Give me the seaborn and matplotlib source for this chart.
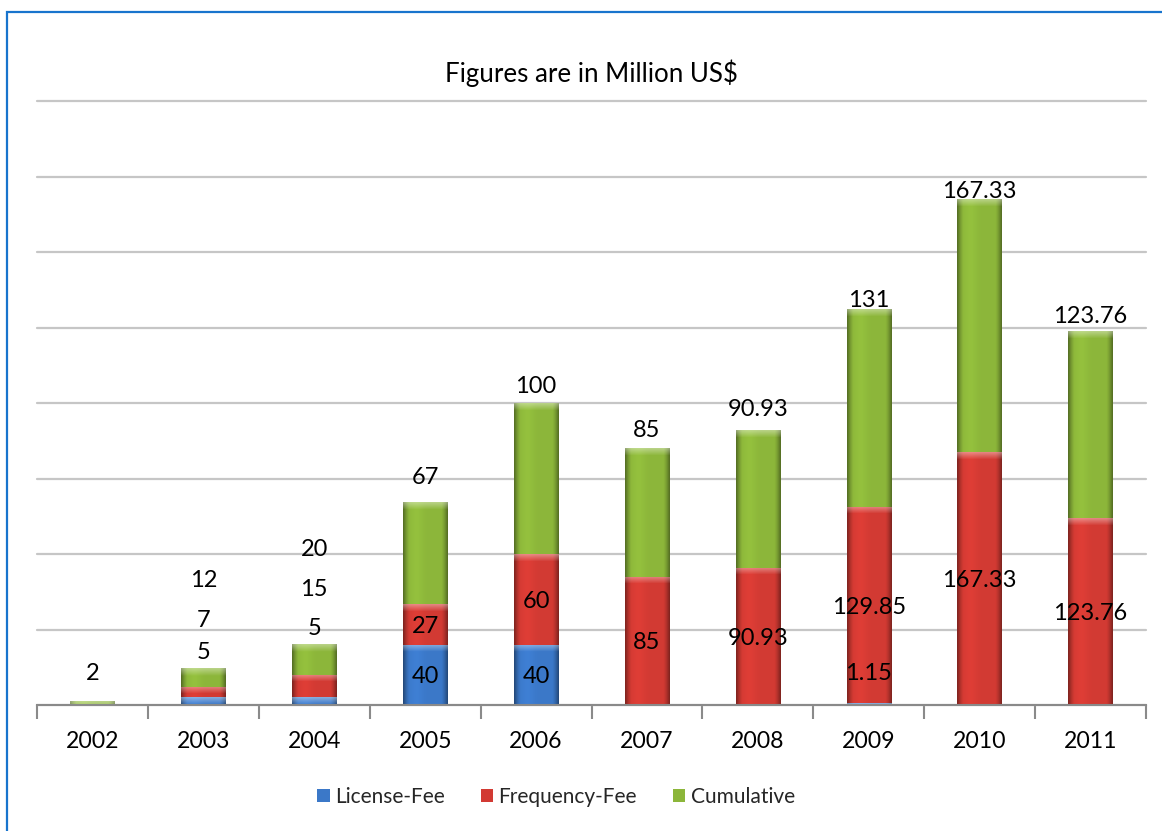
import numpy as np
import pandas as pd
import matplotlib
matplotlib.use("Agg")
import matplotlib.pyplot as plt
import matplotlib.colors as mcolors
from matplotlib.patches import Patch, Rectangle
import seaborn as sns

# ---------------- data ----------------
years = ["2002", "2003", "2004", "2005", "2006", "2007", "2008", "2009", "2010", "2011"]
license_fee = [0, 5, 5, 40, 40, 0, 0, 1.15, 0, 0]
frequency_fee = [0, 7, 15, 27, 60, 85, 90.93, 129.85, 167.33, 123.76]
cumulative = [2, 12, 20, 67, 100, 85, 90.93, 131, 167.33, 123.76]
series_names = ["License-Fee", "Frequency-Fee", "Cumulative"]
title_text = "Figures are in Million US$"

# label placement (text annotations only)
cum_label_offset = [None, None, None, 18, 12.5, 13, 15, 7.5, 6.5, 11]   # data units above bar top
small_labels = {  # (year index, text, y in data units)
    0: [("2", 22)],
    1: [("5", 36.4), ("7", 57.6), ("12", 84)],
    2: [("5", 51.7), ("15", 78), ("20", 104.6)],
}
lic_label_override = {7: 22}

# ---------------- style ----------------
BLUE = "#3B78C8"
RED = "#D23A33"
GREEN = "#8CB63A"
FONT = ["Lato", "DejaVu Sans"]

sns.set_theme(style="white")
plt.rcParams["font.family"] = FONT

W, H = 1162, 831
fig = plt.figure(figsize=(W / 100, H / 100), dpi=100)
ax_l, ax_r, ax_b, ax_t = 37, 1146, 705, 101
ax = fig.add_axes([ax_l / W, 1 - ax_b / H, (ax_r - ax_l) / W, (ax_b - ax_t) / H])

lic = np.array(license_fee, float)
frq = np.array(frequency_fee, float)
cum = np.array(cumulative, float)
tot = lic + frq + cum

df = pd.DataFrame({"year": years, "total": tot, "lf": lic + frq, "l": lic})

# back-to-front stacked bars
sns.barplot(data=df, x="year", y="total", color=GREEN, saturation=1, width=0.4, ax=ax, zorder=2, linewidth=0)
sns.barplot(data=df, x="year", y="lf", color=RED, saturation=1, width=0.4, ax=ax, zorder=3, linewidth=0)
sns.barplot(data=df, x="year", y="l", color=BLUE, saturation=1, width=0.4, ax=ax, zorder=4, linewidth=0)

ax.set_ylim(0, 400)
ax.set_xlim(-0.5, len(years) - 0.5)

# gradient shading on each segment
px_per_unit = (ax_b - ax_t) / 400.0
n = 80
t = np.linspace(0, 1, n)
d = np.abs(t - 0.5)
prof = 1.0 - 0.40 * np.clip((d - 0.36) / 0.14, 0, 1) ** 1.3 + 0.06 * np.exp(-((t - 0.3) / 0.15) ** 2)

def shade(x0, w, y0, h, color, z):
    if h <= 0:
        return
    rows = max(int(round(h * px_per_unit)), 2)
    base = np.array(mcolors.to_rgb(color))
    img = np.clip(base[None, None, :] * prof[None, :, None], 0, 1).repeat(rows, axis=0)
    k = np.arange(rows)
    hl = np.clip(1 - k / 7.0, 0, 1) * 0.38
    img = img * (1 - hl[:, None, None]) + hl[:, None, None]
    ax.imshow(img, extent=(x0, x0 + w, y0, y0 + h), origin="upper", aspect="auto",
              zorder=z, interpolation="bilinear")

bars = ax.patches[:len(years)]
for i, p in enumerate(bars):
    x0, w = p.get_x(), p.get_width()
    shade(x0, w, 0, lic[i], BLUE, 6)
    shade(x0, w, lic[i], frq[i], RED, 6)
    shade(x0, w, lic[i] + frq[i], cum[i], GREEN, 6)

ax.set_ylim(0, 400)
ax.set_xlim(-0.5, len(years) - 0.5)
ax.set_aspect("auto")

# axes styling
ax.set_yticks(np.arange(0, 401, 50))
ax.set_yticklabels([])
ax.yaxis.grid(True, color="#C6C6C6", linewidth=1.6)
for gl in ax.get_ygridlines():
    gl.set_clip_on(False)
ax.set_axisbelow(True)
for s in ["left", "right", "top"]:
    ax.spines[s].set_visible(False)
ax.spines["bottom"].set_color("#8A8A8A")
ax.spines["bottom"].set_linewidth(1.5)
ax.spines["bottom"].set_zorder(7)
ax.set_xlabel("")
ax.set_ylabel("")
ax.tick_params(axis="y", length=0)
ax.tick_params(axis="x", which="major", length=0, pad=19, labelsize=16.6, labelcolor="black")
ax.set_xticks(np.arange(-0.5, len(years)), minor=True)
ax.tick_params(axis="x", which="minor", length=10, width=1.5, color="#8A8A8A", bottom=True)

# data labels
FS = 17
half_cap = 0.36 * FS

def put(x, y, s):
    ax.annotate(s, (x, y), xytext=(0, -half_cap), textcoords="offset points",
                ha="center", va="baseline", fontsize=FS, color="black", zorder=10,
                annotation_clip=False)

def fmt(v):
    return ("%g" % v)

for i in range(len(years)):
    if i in small_labels:
        for s, y in small_labels[i]:
            put(i, y, s)
        continue
    if lic[i] > 0:
        y = lic_label_override.get(i, lic[i] / 2)
        put(i, y, fmt(lic[i]))
    if frq[i] > 0:
        put(i, lic[i] + frq[i] / 2, fmt(frq[i]))
    put(i, tot[i] + cum_label_offset[i], fmt(cum[i]))

# title
fig.text((ax_l + ax_r) / 2 / W, 1 - 82 / H, title_text, ha="center", va="baseline",
         fontsize=18.6, color="black")

# legend
handles = [Patch(facecolor=c, edgecolor="none") for c in (BLUE, RED, GREEN)]
fig.legend(handles, series_names, loc="center", bbox_to_anchor=(556 / W, 1 - 797 / H),
           ncol=3, frameon=False, fontsize=15, handlelength=0.62, handleheight=0.62,
           handletextpad=0.25, columnspacing=1.7)

# outer frame (blue)
fig.add_artist(Rectangle((7 / W, -0.2), 1.5, 1.2 - 12 / H, transform=fig.transFigure,
                         fill=False, edgecolor="#1874CD", linewidth=1.6))

fig.savefig("out.png", dpi=100)
